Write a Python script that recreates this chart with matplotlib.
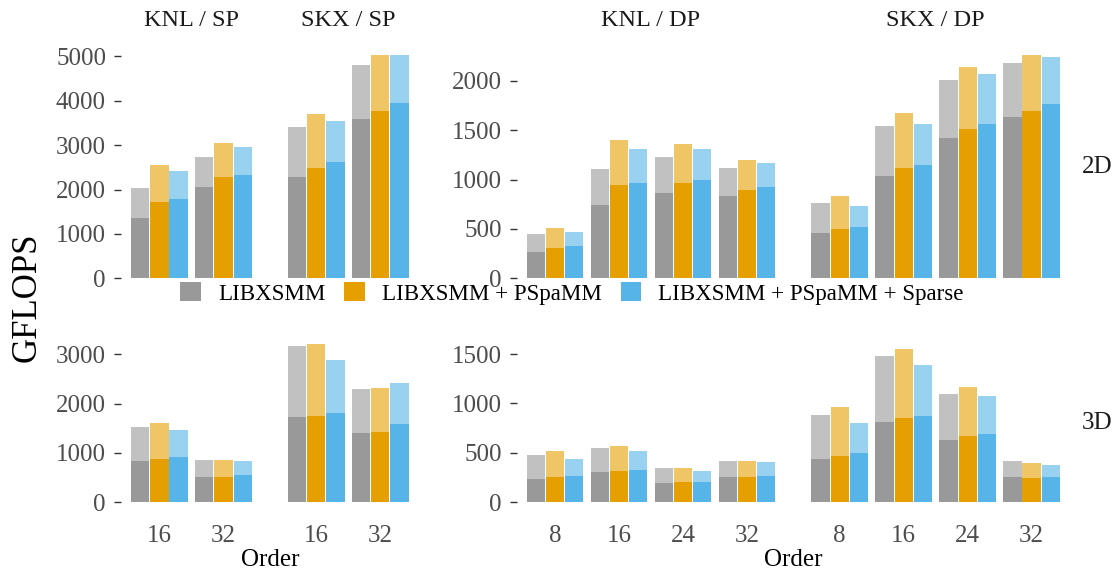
import numpy as np
import matplotlib
matplotlib.use("Agg")
import matplotlib.pyplot as plt
from matplotlib.patches import Patch

plt.rcParams["font.family"] = ["Liberation Serif", "DejaVu Serif"]

# ---------------------------------------------------------------- data
variants = ["LIBXSMM", "LIBXSMM + PSpaMM", "LIBXSMM + PSpaMM + Sparse"]
orders_sp = [16, 32]
orders_dp = [8, 16, 24, 32]

# rows: LIBXSMM, +PSpaMM, +Sparse ; columns: orders
# "tot" = full (light) bar height, "low" = solid lower part
sp2d_knl_tot = [[2030, 2729], [2549, 3043], [2414, 2954]]
sp2d_knl_low = [[1357, 2054], [1717, 2279], [1784, 2324]]
sp2d_skx_tot = [[3403, 4798], [3696, 5022], [3538, 5022]]
sp2d_skx_low = [[2279, 3583], [2481, 3763], [2616, 3943]]

dp2d_knl_tot = [[448, 1106, 1228, 1116], [509, 1400, 1359, 1197], [469, 1309, 1309, 1167]]
dp2d_knl_low = [[266, 742, 863, 833], [307, 944, 965, 894], [327, 965, 995, 924]]
dp2d_skx_tot = [[762, 1541, 2007, 2179], [833, 1673, 2138, 2260], [732, 1562, 2067, 2239]]
dp2d_skx_low = [[459, 1035, 1420, 1632], [499, 1116, 1511, 1693], [519, 1147, 1562, 1764]]

sp3d_knl_tot = [[1524, 856], [1605, 856], [1463, 836]]
sp3d_knl_low = [[836, 512], [877, 512], [917, 553]]
sp3d_skx_tot = [[3162, 2293], [3203, 2313], [2879, 2414]]
sp3d_skx_low = [[1726, 1403], [1746, 1423], [1807, 1585]]

dp3d_knl_tot = [[479, 550, 347, 418], [519, 570, 347, 418], [438, 519, 317, 408]]
dp3d_knl_low = [[236, 307, 196, 256], [256, 317, 206, 256], [266, 327, 206, 266]]
dp3d_skx_tot = [[883, 1480, 1096, 418], [964, 1551, 1167, 398], [802, 1389, 1076, 378]]
dp3d_skx_low = [[438, 813, 630, 256], [469, 853, 671, 246], [499, 873, 691, 256]]

colors = ["#999999", "#E69F00", "#56B4E9"]
tick_color = "#4D4D4D"

# ---------------------------------------------------------------- layout
W, H = 1115, 573
fig = plt.figure(figsize=(W / 100, H / 100), dpi=100)
PT = 0.72  # points per pixel at 100 dpi


def px_axes(left, top, right, bottom):
    return fig.add_axes([left / W, 1 - bottom / H, (right - left) / W, (bottom - top) / H])


arch_gap = 1.45
bar_w = 0.285
offsets = [-0.3, 0.0, 0.3]


def draw_panel(ax, orders, knl_tot, knl_low, skx_tot, skx_low, ymax, ystep,
               prec=None, row_label=None, bottom=False):
    n = len(orders)
    knl_pos = np.arange(n, dtype=float)
    skx_pos = knl_pos + n - 1 + arch_gap
    for pos, tot, low in ((knl_pos, knl_tot, knl_low), (skx_pos, skx_tot, skx_low)):
        for k in range(3):
            ax.bar(pos + offsets[k], tot[k], bar_w, color=colors[k], alpha=0.6, lw=0)
            ax.bar(pos + offsets[k], low[k], bar_w, color=colors[k], lw=0)
    ax.set_xlim(-0.6, skx_pos[-1] + 0.6)
    ax.set_ylim(0, ymax)
    yt = np.arange(0, ymax + 1, ystep)
    ax.set_yticks(yt)
    ax.set_yticklabels([f"{int(v)}" for v in yt])
    for s in ax.spines.values():
        s.set_visible(False)
    ax.tick_params(axis="y", length=5, width=1.0, color="#333333", pad=5.8,
                   labelsize=18, labelcolor=tick_color)
    ax.tick_params(axis="x", length=0, pad=16, labelsize=18, labelcolor=tick_color)
    if bottom:
        ax.set_xticks(np.concatenate([knl_pos, skx_pos]))
        ax.set_xticklabels([str(o) for o in orders] * 2)
        ax.annotate("Order", xy=(0.5, 0), xycoords="axes fraction",
                    xytext=(0, -64 * PT), textcoords="offset points",
                    ha="center", va="baseline", fontsize=18, color="black")
    else:
        ax.set_xticks([])
    if prec is not None:
        for arch, pos in (("KNL", knl_pos), ("SKX", skx_pos)):
            ax.annotate(f"{arch} / {prec}", xy=(pos.mean(), 1),
                        xycoords=("data", "axes fraction"),
                        xytext=(0, 29 * PT), textcoords="offset points",
                        ha="center", va="baseline", fontsize=17.5, color="#1A1A1A")
    if row_label is not None:
        ax.annotate(row_label, xy=(1, 0.5), xycoords="axes fraction",
                    xytext=(12 * PT, 0), textcoords="offset points",
                    ha="left", va="center", fontsize=18, color="#1A1A1A")


sp_l, sp_r = 121, 418.7
dp_l, dp_r = 516.6, 1070
top_t, top_b = 55, 278.3
bot_t, bot_b = 344, 502.3

ax_sp2d = px_axes(sp_l, top_t, sp_r, top_b)
ax_dp2d = px_axes(dp_l, top_t, dp_r, top_b)
ax_sp3d = px_axes(sp_l, bot_t, sp_r, bot_b)
ax_dp3d = px_axes(dp_l, bot_t, dp_r, bot_b)

draw_panel(ax_sp2d, orders_sp, sp2d_knl_tot, sp2d_knl_low, sp2d_skx_tot, sp2d_skx_low,
           5030, 1000, prec="SP")
draw_panel(ax_dp2d, orders_dp, dp2d_knl_tot, dp2d_knl_low, dp2d_skx_tot, dp2d_skx_low,
           2262, 500, prec="DP", row_label="2D")
draw_panel(ax_sp3d, orders_sp, sp3d_knl_tot, sp3d_knl_low, sp3d_skx_tot, sp3d_skx_low,
           3205, 1000, bottom=True)
draw_panel(ax_dp3d, orders_dp, dp3d_knl_tot, dp3d_knl_low, dp3d_skx_tot, dp3d_skx_low,
           1602, 500, row_label="3D", bottom=True)

fig.text(27 / W, 1 - 297 / H, "GFLOPS", rotation=90, ha="center", va="center",
         fontsize=25, color="black")

handles = [Patch(facecolor=c, edgecolor="none") for c in colors]
fig.legend(handles, variants, loc="center", bbox_to_anchor=(572 / W, 1 - 293.5 / H),
           ncol=3, frameon=False, fontsize=16.6, handlelength=0.9, handleheight=0.9,
           handletextpad=0.74, columnspacing=0.82, borderpad=0, borderaxespad=0)

fig.savefig("out.png", dpi=100, facecolor="white")
